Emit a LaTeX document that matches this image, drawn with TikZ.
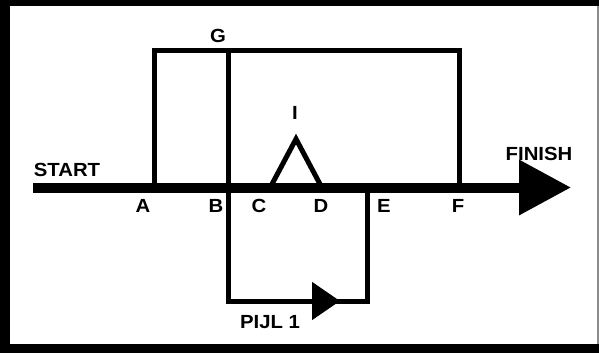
\documentclass[tikz,border=0pt]{standalone}
\usepackage{fontspec}
\setmainfont{Liberation Sans}
\newfontfamily\labelfont[FakeStretch=1.07]{Liberation Sans}
\usetikzlibrary{arrows.meta}
\begin{document}
\begin{tikzpicture}[x=1pt,y=-1pt,line join=miter,
  lbl/.style={font=\labelfont\bfseries\fontsize{19}{19}\selectfont,inner sep=0pt},
  wire/.style={line width=5pt},
  mainarrow/.style={line width=10pt,-{Triangle[length=52pt,width=53pt]}},
  smallarrow/.style={line width=5pt,-{Triangle[length=28pt,width=37pt]}}]
\useasboundingbox (0,0) rectangle (599,353);
% frame
\fill[black] (0,0) rectangle (599,353);
\fill[white] (10,6) rectangle (597,344);
\fill[black!45] (597,6) rectangle (599,344);
% points
\coordinate (start) at (33,187.5);
\coordinate (finish) at (571,187.5);
\coordinate (A) at (154,187.5);
\coordinate (B) at (228,187.5);
\coordinate (E) at (367,187.5);
\coordinate (F) at (459,187.5);
\coordinate (Atop) at (154,50.5);
\coordinate (Btop) at (228,50.5);
\coordinate (Ftop) at (459,50.5);
\coordinate (Bbot) at (228,301);
\coordinate (Ebot) at (367,301);
\coordinate (mid) at (340,301);
\coordinate (C0) at (271,186);
\coordinate (apex) at (296,139);
\coordinate (D0) at (321,186);
% upper loops
\draw[wire] (A) -- (Atop) -- (Ftop) -- (F);
\draw[wire] (B) -- (Btop);
% triangle
\draw[wire] (C0) -- (apex) -- (D0);
% lower loop
\draw[wire] (B) -- (Bbot) -- (Ebot) -- (E);
\draw[smallarrow] (Bbot) -- (mid);
% labels
\node[lbl] (lSTART) at (67,170) {START};
\node[lbl] (lFINISH) at (539,154) {FINISH};
\node[lbl] (lG) at (218,36) {G};
\node[lbl] (lI) at (295,113) {I};
\node[lbl] (lA) at (143,205.5) {A};
\node[lbl] (lB) at (216,205.5) {B};
\node[lbl] (lC) at (259,205.5) {C};
\node[lbl] (lD) at (321,205.5) {D};
\node[lbl] (lE) at (384,205.5) {E};
\node[lbl] (lF) at (458,205.5) {F};
\node[lbl] (lPIJL) at (270,322.5) {PIJL 1};
% main line
\draw[mainarrow] (start) -- (finish);
\end{tikzpicture}
\end{document}
